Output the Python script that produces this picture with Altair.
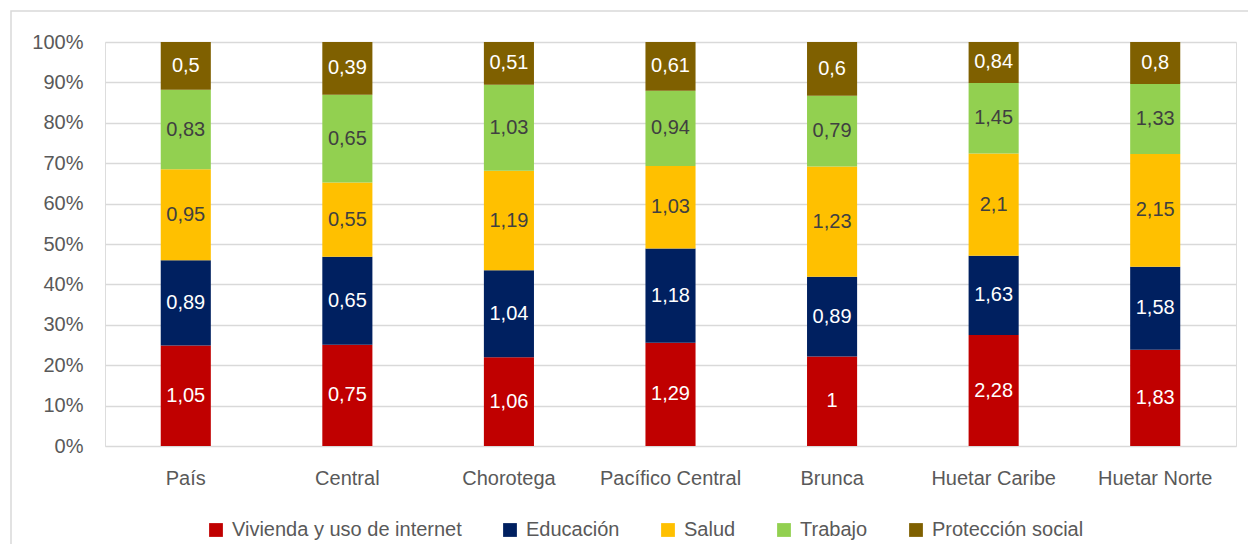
import altair as alt
import pandas as pd

regions = ["País", "Central", "Chorotega", "Pacífico Central", "Brunca", "Huetar Caribe", "Huetar Norte"]
series = ["Vivienda y uso de internet", "Educación", "Salud", "Trabajo", "Protección social"]
vivienda = [1.05, 0.75, 1.06, 1.29, 1, 2.28, 1.83]
educacion = [0.89, 0.65, 1.04, 1.18, 0.89, 1.63, 1.58]
salud = [0.95, 0.55, 1.19, 1.03, 1.23, 2.1, 2.15]
trabajo = [0.83, 0.65, 1.03, 0.94, 0.79, 1.45, 1.33]
proteccion = [0.5, 0.39, 0.51, 0.61, 0.6, 0.84, 0.8]
colors = ["#c00000", "#002060", "#ffc000", "#92d050", "#7f6000"]
text_colors = ["#ffffff", "#ffffff", "#404040", "#404040", "#ffffff"]

values = [vivienda, educacion, salud, trabajo, proteccion]
rows = []
for si, (s, vals) in enumerate(zip(series, values)):
    for r, v in zip(regions, vals):
        rows.append({"region": r, "serie": s, "orden": si, "valor": v,
                     "etiqueta": f"{v:g}".replace(".", ","), "tcolor": text_colors[si]})
df = pd.DataFrame(rows)

FONT = "Liberation Sans"

base = alt.Chart(df).transform_stack(
    stack="valor", groupby=["region"], as_=["y0", "y1"], offset="normalize",
    sort=[alt.SortField("orden", order="ascending")]
).transform_calculate(ymid="(datum.y0 + datum.y1) / 2")

xenc = alt.X("region:N", sort=regions, title=None,
             scale=alt.Scale(paddingInner=0.69, paddingOuter=0.345),
             axis=alt.Axis(labelAngle=0, ticks=False, domain=False, labelPadding=22,
                           labelFontSize=20, labelColor="#595959", labelFont=FONT))

bars = base.mark_bar().encode(
    x=xenc,
    y=alt.Y("y0:Q", title=None, scale=alt.Scale(domain=[0, 1]),
            axis=alt.Axis(format="%", values=[i / 10 for i in range(11)], ticks=False, domain=False,
                          labelPadding=22, labelFontSize=20, labelColor="#595959", labelFont=FONT,
                          gridColor="#d9d9d9", gridWidth=1.5)),
    y2="y1:Q",
    color=alt.Color("serie:N", sort=series, title=None,
                    scale=alt.Scale(domain=series, range=colors),
                    legend=alt.Legend(orient="none", legendX=101, legendY=478, direction="horizontal",
                                      columns=5, symbolType="square", symbolSize=190,
                                      symbolStrokeWidth=0, labelFontSize=20, labelColor="#595959",
                                      labelFont=FONT, labelOffset=6, columnPadding=38, labelLimit=0)),
    order=alt.Order("orden:Q"),
)

labels = base.mark_text(fontSize=20, font=FONT).encode(
    x=alt.X("region:N", sort=regions),
    y=alt.Y("ymid:Q"),
    text="etiqueta:N",
    color=alt.Color("tcolor:N", scale=None),
)

frame = alt.Chart(pd.DataFrame({"k": [0]})).mark_rect(fill=None, stroke="#d9d9d9", strokeWidth=1.5).encode(
    x=alt.value(-94), x2=alt.value(1160), y=alt.value(-31), y2=alt.value(530)
)

chart = alt.layer(frame, bars, labels).properties(
    width=1131, height=404,
    autosize=alt.AutoSizeParams(type="none"),
    padding={"left": 97, "top": 34, "right": 12, "bottom": 98},
).configure_view(stroke=None).configure(background="#ffffff")

chart.save("out.html", embed_options={"renderer": "svg", "actions": False})
